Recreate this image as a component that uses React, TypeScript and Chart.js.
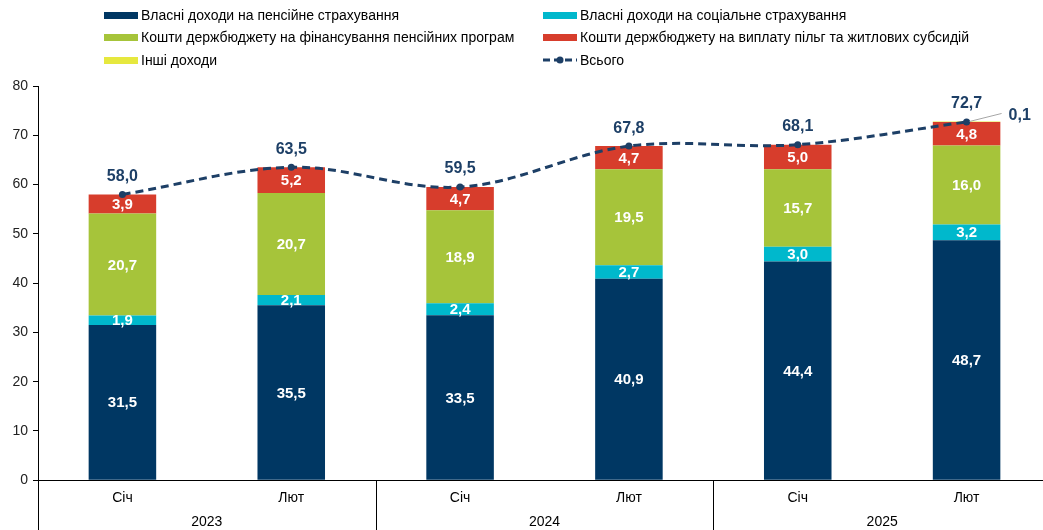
import React, { useEffect, useRef } from "react";
import { Chart, registerables } from "chart.js";

Chart.register(...registerables);

const categories = ["Січ", "Лют", "Січ", "Лют", "Січ", "Лют"];
const years = ["2023", "2024", "2025"];
const ownPension = [31.5, 35.5, 33.5, 40.9, 44.4, 48.7];
const ownSocial = [1.9, 2.1, 2.4, 2.7, 3.0, 3.2];
const budgetPension = [20.7, 20.7, 18.9, 19.5, 15.7, 16.0];
const budgetBenefits = [3.9, 5.2, 4.7, 4.7, 5.0, 4.8];
const otherIncome = [0, 0, 0, 0, 0, 0.1];
const totals = [58.0, 63.5, 59.5, 67.8, 68.1, 72.7];
const yTicks = [0, 10, 20, 30, 40, 50, 60, 70, 80];

const NAVY = "#003763";
const CYAN = "#00b8cc";
const GREEN = "#a6c43a";
const RED = "#d73d2c";
const YELLOW = "#e6e83e";
const LINE = "#1d3f66";
const FONT = "'Liberation Sans', Arial, sans-serif";

const fmt = (v: number) => v.toFixed(1).replace(".", ",");

const legendItems = [
  { label: "Власні доходи на пенсійне страхування", color: NAVY, x: 104, y: 15 },
  { label: "Власні доходи на соціальне страхування", color: CYAN, x: 543, y: 15 },
  { label: "Кошти держбюджету на фінансування пенсійних програм", color: GREEN, x: 104, y: 37 },
  { label: "Кошти держбюджету на виплату пільг та житлових субсидій", color: RED, x: 543, y: 37 },
  { label: "Інші доходи", color: YELLOW, x: 104, y: 60 },
  { label: "Всього", color: LINE, x: 543, y: 60, line: true },
];

const labelsPlugin = {
  id: "labelsPlugin",
  afterDatasetsDraw(chart: any) {
    const ctx = chart.ctx;
    ctx.save();
    ctx.textAlign = "center";
    ctx.textBaseline = "middle";
    for (let d = 0; d < 4; d++) {
      const meta = chart.getDatasetMeta(d);
      const data = chart.data.datasets[d].data as number[];
      meta.data.forEach((el: any, i: number) => {
        const v = data[i];
        if (!v) return;
        const { x, y, base } = el.getProps(["x", "y", "base"], true);
        ctx.fillStyle = "#ffffff";
        ctx.font = `bold 15px ${FONT}`;
        ctx.fillText(fmt(v), x, (y + base) / 2 + 1);
      });
    }
    const oMeta = chart.getDatasetMeta(4);
    const oData = chart.data.datasets[4].data as number[];
    oMeta.data.forEach((el: any, i: number) => {
      const v = oData[i];
      if (!v) return;
      const { x, y } = el.getProps(["x", "y"], true);
      ctx.strokeStyle = "#a6a6a6";
      ctx.lineWidth = 1;
      ctx.beginPath();
      ctx.moveTo(x + 3, y);
      ctx.lineTo(x + 35, y - 8);
      ctx.stroke();
      ctx.fillStyle = LINE;
      ctx.font = `bold 16px ${FONT}`;
      ctx.textAlign = "left";
      ctx.fillText(fmt(v), x + 42, y - 6);
      ctx.textAlign = "center";
    });
    const lMeta = chart.getDatasetMeta(5);
    const lData = chart.data.datasets[5].data as number[];
    lMeta.data.forEach((el: any, i: number) => {
      const { x, y } = el.getProps(["x", "y"], true);
      ctx.fillStyle = LINE;
      ctx.font = `bold 16px ${FONT}`;
      ctx.fillText(fmt(lData[i]), x, y - 18);
    });
    ctx.restore();
  },
  afterDraw(chart: any) {
    const ctx = chart.ctx;
    const area = chart.chartArea;
    const xs = chart.scales.x;
    const n = categories.length;
    const cw = (area.right - area.left) / n;
    ctx.save();
    ctx.strokeStyle = "#000000";
    ctx.lineWidth = 1;
    for (let k = 0; k <= years.length; k++) {
      const px = Math.round(area.left + k * 2 * cw) + 0.5;
      if (px > chart.width) continue;
      ctx.beginPath();
      ctx.moveTo(px, area.bottom);
      ctx.lineTo(px, chart.height);
      ctx.stroke();
    }
    ctx.fillStyle = "#000000";
    ctx.font = `14px ${FONT}`;
    ctx.textAlign = "center";
    ctx.textBaseline = "middle";
    years.forEach((yr, k) => {
      const cx = (xs.getPixelForValue(2 * k) + xs.getPixelForValue(2 * k + 1)) / 2;
      ctx.fillText(yr, cx, area.bottom + 42);
    });
    ctx.restore();
  },
};

export default function App() {
  const ref = useRef<HTMLCanvasElement | null>(null);
  useEffect(() => {
    if (!ref.current) return;
    const barCommon = { stack: "s", barPercentage: 0.4, categoryPercentage: 1, order: 2, borderWidth: 0 };
    const chart = new Chart(ref.current, {
      type: "bar",
      data: {
        labels: categories,
        datasets: [
          { label: "Власні доходи на пенсійне страхування", data: ownPension, backgroundColor: NAVY, ...barCommon },
          { label: "Власні доходи на соціальне страхування", data: ownSocial, backgroundColor: CYAN, ...barCommon },
          { label: "Кошти держбюджету на фінансування пенсійних програм", data: budgetPension, backgroundColor: GREEN, ...barCommon },
          { label: "Кошти держбюджету на виплату пільг та житлових субсидій", data: budgetBenefits, backgroundColor: RED, ...barCommon },
          { label: "Інші доходи", data: otherIncome, backgroundColor: YELLOW, ...barCommon },
          {
            type: "line",
            label: "Всього",
            data: totals,
            borderColor: LINE,
            backgroundColor: LINE,
            borderWidth: 3,
            borderDash: [8, 5],
            pointRadius: 3.5,
            pointBackgroundColor: LINE,
            pointBorderWidth: 0,
            tension: 0.35,
            order: 0,
            stack: "line",
          } as any,
        ],
      },
      options: {
        responsive: false,
        animation: false,
        maintainAspectRatio: false,
        layout: { padding: { top: 86, right: 3, bottom: 13, left: 1 } },
        plugins: { legend: { display: false }, tooltip: { enabled: false } },
        scales: {
          x: {
            stacked: true,
            grid: { display: false, drawTicks: false },
            border: { display: true, color: "#000000", width: 1 },
            ticks: { color: "#000000", font: { family: FONT, size: 14 }, padding: 10 },
          },
          y: {
            stacked: true,
            min: 0,
            max: 80,
            afterBuildTicks: (s: any) => {
              s.ticks = yTicks.map((v) => ({ value: v }));
            },
            grid: { drawOnChartArea: false, drawTicks: true, tickLength: 5, color: "#000000" },
            border: { display: true, color: "#000000", width: 1 },
            ticks: { color: "#222222", font: { family: FONT, size: 14 }, padding: 5 },
            afterFit: (s: any) => {
              s.width = 37;
            },
          },
        },
      },
      plugins: [labelsPlugin],
    });
    return () => chart.destroy();
  }, []);

  return (
    <div style={{ position: "absolute", left: 0, top: 0, width: 1043, height: 530, background: "#ffffff", overflow: "hidden" }}>
      <canvas ref={ref} width={1055} height={530} style={{ position: "absolute", left: 0, top: 0 }} />
      {legendItems.map((it) => (
        <div
          key={it.label}
          style={{
            position: "absolute",
            left: it.x,
            top: it.y - 9,
            height: 18,
            display: "flex",
            alignItems: "center",
            fontFamily: FONT,
            fontSize: 14,
            color: "#000000",
            whiteSpace: "nowrap",
          }}
        >
          {it.line ? (
            <svg width={34} height={10} style={{ marginRight: 3 }}>
              <line x1={0} y1={5} x2={34} y2={5} stroke={it.color} strokeWidth={3} strokeDasharray="7 4" />
              <circle cx={17} cy={5} r={3.5} fill={it.color} />
            </svg>
          ) : (
            <div style={{ width: 34, height: 7, background: it.color, marginRight: 3 }} />
          )}
          <span>{it.label}</span>
        </div>
      ))}
    </div>
  );
}
